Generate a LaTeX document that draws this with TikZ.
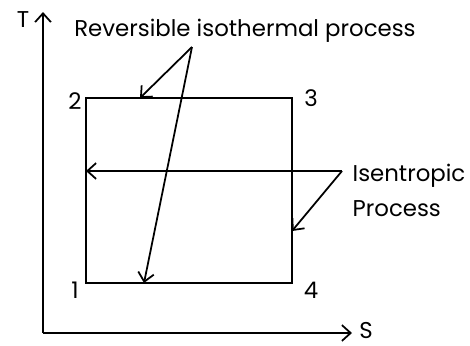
\documentclass[tikz,border=0pt]{standalone}
\usepackage{fontspec}
\setmainfont{Poppins}
\usetikzlibrary{positioning, arrows.meta}

\begin{document}
\begin{tikzpicture}[
  x=0.02cm, y=-0.02cm,
  font=\fontsize{13}{15}\selectfont,
  line width=1pt,
  arr/.style={-{Straight Barb[length=5pt, width=9pt]}},
  lbl/.style={inner sep=1pt}
]
\useasboundingbox (0,0) rectangle (470,345);
% axes
\coordinate (O) at (43,333);
\coordinate (Ttip) at (43,12);
\coordinate (Stip) at (352,333);
\draw[arr] (O) -- (Ttip);
\draw[arr] (O) -- (Stip);
\node[lbl] (T) at (23,20) {T};
\node[lbl] (S) at (366,331) {S};
% cycle
\coordinate (p1) at (86,283);
\coordinate (p2) at (86,98);
\coordinate (p3) at (292,98);
\coordinate (p4) at (292,283);
\draw (p1) -- (p2) -- (p3) -- (p4) -- cycle;
\node[lbl] (n1) at (75,290) {1};
\node[lbl] (n2) at (75,101) {2};
\node[lbl] (n3) at (311,98) {3};
\node[lbl] (n4) at (311,290) {4};
% labels
\node[lbl] (iso) at (245,31) {Reversible isothermal process};
\coordinate (isofrom) at (192,47);
\coordinate (isotop) at (140,98);
\coordinate (isobot) at (144,283);
\draw[arr] (isofrom) -- (isotop);
\draw[arr] (isofrom) -- (isobot);
\node[lbl, anchor=west, align=left] (isen) at (350,190) {Isentropic\\[5pt]Process};
\coordinate (isenfrom) at (342,171);
\coordinate (isenleft) at (86,171);
\coordinate (isenright) at (292,231);
\draw[arr] (isenfrom) -- (isenleft);
\draw[arr] (isenfrom) -- (isenright);
\end{tikzpicture}
\end{document}
